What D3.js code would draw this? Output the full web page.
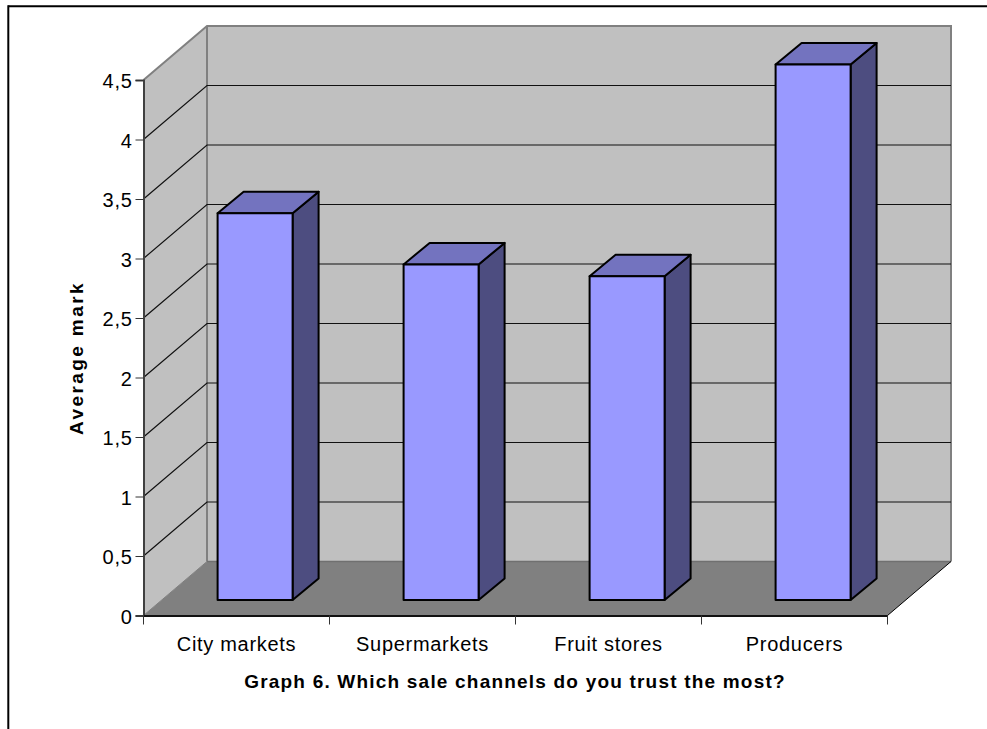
<!DOCTYPE html>
<html>
<head>
<meta charset="utf-8">
<style>
html,body{margin:0;padding:0;background:#fff}
svg{display:block}
text{font-family:"Liberation Sans",Arial,sans-serif;fill:#000}
</style>
<script src="https://cdn.jsdelivr.net/npm/d3@7"></script>
</head>
<body>
<div id="chart"></div>
<script>
const categories = ["City markets", "Supermarkets", "Fruit stores", "Producers"];
const averageMarks = [3.25, 2.82, 2.72, 4.5];
const tickValues = [0, 0.5, 1, 1.5, 2, 2.5, 3, 3.5, 4, 4.5];
const xTitle = "Graph 6. Which sale channels do you trust the most?";
const yTitle = "Average mark";

const W = 987, H = 729;
const svg = d3.select("#chart").append("svg").attr("width", W).attr("height", H);

// Front plane of the 3D box, plus the oblique offset to the back wall
const x0 = 143.5, x1 = 887.5, yBase = 615.5, yTop = 80;
const depthX = 63.5, depthY = -54;

const x = d3.scaleBand().domain(categories).range([x0, x1]);
const y = d3.scaleLinear().domain([0, 4.5]).range([yBase, yTop]);
const barWidth = 75;
const barShift = [18.6, -15.5];   // bars stand slightly behind the front plane
const barDepth = [26, -21.5];

const poly = pts => pts.map(p => p.join(",")).join(" ");
const sel = svg.append("g");

// Page frame: top and left rules only
sel.append("line").attr("x1", 8.3).attr("x2", W).attr("y1", 6.3).attr("y2", 6.3).attr("stroke", "#000").attr("stroke-width", 2);
sel.append("line").attr("x1", 8.3).attr("x2", 8.3).attr("y1", 5.3).attr("y2", H).attr("stroke", "#000").attr("stroke-width", 2);

// Side wall, back wall and floor
sel.append("polygon")
  .attr("points", poly([[x0, yTop], [x0 + depthX, yTop + depthY], [x0 + depthX, yBase + depthY], [x0, yBase]]))
  .attr("fill", "#c0c0c0");
sel.append("polygon")
  .attr("points", poly([[x0 + depthX, yTop + depthY], [x1 + depthX, yTop + depthY], [x1 + depthX, yBase + depthY], [x0 + depthX, yBase + depthY]]))
  .attr("fill", "#c0c0c0");
sel.append("polygon")
  .attr("points", poly([[x0, yBase], [x0 + depthX, yBase + depthY], [x1 + depthX, yBase + depthY], [x1, yBase]]))
  .attr("fill", "#808080");

// Wall outlines in mid grey
sel.append("polyline")
  .attr("points", poly([[x0, yTop], [x0 + depthX, yTop + depthY], [x1 + depthX, yTop + depthY], [x1 + depthX, yBase + depthY]]))
  .attr("fill", "none").attr("stroke", "#808080").attr("stroke-width", 2);
sel.append("line")
  .attr("x1", x0 + depthX).attr("x2", x0 + depthX).attr("y1", yTop + depthY).attr("y2", yBase + depthY)
  .attr("stroke", "#808080").attr("stroke-width", 2);
sel.append("line")
  .attr("x1", x0 + depthX).attr("x2", x1 + depthX).attr("y1", yBase + depthY).attr("y2", yBase + depthY)
  .attr("stroke", "#707070").attr("stroke-width", 1.5);

// Gridlines run across the side wall and along the back wall
const grid = sel.append("g");
tickValues.slice(1, -1).forEach(v => {
  grid.append("polyline")
    .attr("points", poly([[x0, y(v)], [x0 + depthX, y(v) + depthY], [x1 + depthX, y(v) + depthY]]))
    .attr("fill", "none").attr("stroke", "#111").attr("stroke-width", 1.2);
});

sel.append("line")
  .attr("x1", x0).attr("x2", x0 + depthX).attr("y1", yBase).attr("y2", yBase + depthY)
  .attr("stroke", "#808080").attr("stroke-width", 1);
sel.append("line")
  .attr("x1", x1).attr("x2", x1 + depthX).attr("y1", yBase).attr("y2", yBase + depthY)
  .attr("stroke", "#000").attr("stroke-width", 1);

// Bars: front, top and side faces
const bars = sel.selectAll("g.bar").data(categories.map((c, i) => ({ c, v: averageMarks[i] })))
  .join("g").attr("class", "bar");
const geom = d => {
  const l = x(d.c) + (x.bandwidth() - barWidth) / 2 + barShift[0];
  return { l, r: l + barWidth, b: y(0) + barShift[1], t: y(d.v) + barShift[1] };
};
const edge = s => s.attr("stroke", "#000").attr("stroke-width", 2).attr("stroke-linejoin", "round");
edge(bars.append("polygon").attr("fill", "#4d4d80").attr("points", d => {
  const g = geom(d);
  return poly([[g.r, g.t], [g.r + barDepth[0], g.t + barDepth[1]], [g.r + barDepth[0], g.b + barDepth[1]], [g.r, g.b]]);
}));
edge(bars.append("polygon").attr("fill", "#7373bf").attr("points", d => {
  const g = geom(d);
  return poly([[g.l, g.t], [g.l + barDepth[0], g.t + barDepth[1]], [g.r + barDepth[0], g.t + barDepth[1]], [g.r, g.t]]);
}));
edge(bars.append("polygon").attr("fill", "#9999ff").attr("points", d => {
  const g = geom(d);
  return poly([[g.l, g.t], [g.r, g.t], [g.r, g.b], [g.l, g.b]]);
}));

// Axes on the front plane
const fmt = v => String(v).replace(".", ",");
const yAxis = svg.append("g").attr("transform", `translate(${x0},0)`)
  .call(d3.axisLeft(y).tickValues(tickValues).tickFormat(fmt).tickSize(8).tickPadding(3));
yAxis.selectAll(".tick text").attr("dy", "0.38em");
const xAxis = svg.append("g").attr("transform", `translate(0,${yBase})`)
  .call(d3.axisBottom(x).tickSize(0).tickPadding(21));
// Category boundaries carry the x ticks
const boundaries = d3.range(categories.length + 1).map(i => x0 + i * x.step());
xAxis.selectAll("line.boundary").data(boundaries).join("line").attr("class", "boundary")
  .attr("x1", d => d).attr("x2", d => d).attr("y1", 0).attr("y2", 9).attr("stroke", "#333");
[yAxis, xAxis].forEach(a => {
  a.selectAll(".tick text").style("font-size", "20px").style("letter-spacing", "0.7px").style("font-family", '"Liberation Sans",Arial,sans-serif');
  a.selectAll(".tick line").attr("stroke", "#333");
});
yAxis.select(".domain").attr("stroke", "#404040").attr("stroke-width", 2);
xAxis.select(".domain").attr("stroke", "#111").attr("stroke-width", 2);

// Axis titles
svg.append("text").attr("x", 515).attr("y", 688).attr("text-anchor", "middle")
  .style("font-size", "19px").style("font-weight", "bold").style("letter-spacing", "1.2px").text(xTitle);
svg.append("text").attr("transform", "translate(83,358) rotate(-90)").attr("text-anchor", "middle")
  .style("font-size", "19px").style("font-weight", "bold").style("letter-spacing", "2.4px").text(yTitle);
</script>
</body>
</html>
